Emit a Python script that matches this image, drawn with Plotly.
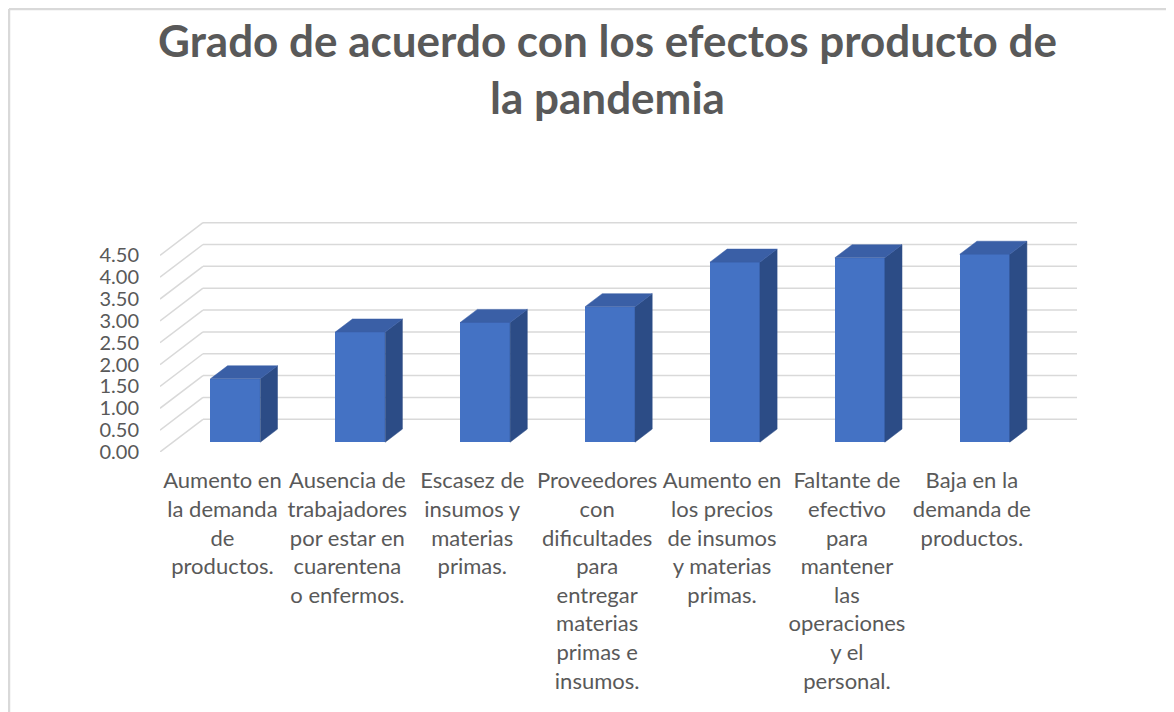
import plotly.graph_objects as go

# ---- data ----
categories = [
    "Aumento en<br>la demanda<br>de<br>productos.",
    "Ausencia de<br>trabajadores<br>por estar en<br>cuarentena<br>o enfermos.",
    "Escasez de<br>insumos y<br>materias<br>primas.",
    "Proveedores<br>con<br>dificultades<br>para<br>entregar<br>materias<br>primas e<br>insumos.",
    "Aumento en<br>los precios<br>de insumos<br>y materias<br>primas.",
    "Faltante de<br>efectivo<br>para<br>mantener<br>las<br>operaciones<br>y el<br>personal.",
    "Baja en la<br>demanda de<br>productos.",
]
values = [1.45, 2.52, 2.74, 3.10, 4.12, 4.22, 4.30]
y_ticks = [0, 0.5, 1, 1.5, 2, 2.5, 3, 3.5, 4, 4.5]
y_tick_text = ["%.2f" % v for v in y_ticks]
title_text = "Grado de acuerdo con los efectos producto de<br>la pandemia"

# ---- oblique 3D projection parameters (style) ----
DX = 0.344   # full depth offset in category units
DY = 0.748   # full depth offset in value units
BAR_W = 0.4  # bar width (gap width 150%)
D0, D1 = 0.3, 0.7  # bar depth span (gap depth 150%)

FRONT = "#4472C4"
TOP = "#3A5FA6"
SIDE = "#2C4C86"
GRID = "#D9D9D9"
TXT = "#595959"
FONT = "Lato"

n = len(categories)
xs = list(range(n))

fig = go.Figure()

# front faces
fig.add_trace(go.Bar(
    x=[i + D0 * DX for i in xs], y=values, base=D0 * DY, width=BAR_W,
    marker=dict(color=FRONT, line=dict(width=0)), hoverinfo="skip", showlegend=False,
))

# side and top faces
ddx = (D1 - D0) * DX
ddy = (D1 - D0) * DY
side_x, side_y, top_x, top_y = [], [], [], []
for i, v in zip(xs, values):
    xl = i + D0 * DX - BAR_W / 2
    xr = i + D0 * DX + BAR_W / 2
    b = D0 * DY
    t = b + v
    side_x += [xr, xr + ddx, xr + ddx, xr, xr, None]
    side_y += [b, b + ddy, t + ddy, t, b, None]
    top_x += [xl, xr, xr + ddx, xl + ddx, xl, None]
    top_y += [t, t, t + ddy, t + ddy, t, None]
fig.add_trace(go.Scatter(x=side_x, y=side_y, fill="toself", fillcolor=SIDE, mode="lines",
                         line=dict(width=0.5, color=SIDE), hoverinfo="skip", showlegend=False))
fig.add_trace(go.Scatter(x=top_x, y=top_y, fill="toself", fillcolor=TOP, mode="lines",
                         line=dict(width=0.5, color=TOP), hoverinfo="skip", showlegend=False))

# gridlines: diagonal on the side wall + horizontal on the back wall
xmin = -0.5
xmax = n - 0.5
for v in y_ticks:
    fig.add_shape(type="line", x0=xmin, y0=v, x1=xmin + DX, y1=v + DY,
                  xref="x", yref="y", layer="below", line=dict(color=GRID, width=1.5))
    fig.add_shape(type="line", x0=xmin + DX, y0=v + DY, x1=xmax + DX, y1=v + DY,
                  xref="x", yref="y", layer="below", line=dict(color=GRID, width=1.5))

W, H = 1174, 712
L, R, T, B = 152, 105, 214, 268
plot_w = W - L - R
plot_h = H - T - B
x_unit = 124.9
y_unit = 43.7

# chart border (left and top edges of the chart frame)
bx = (1 - L) / plot_w
by_top = (H - B - 1) / plot_h
by_bot = (H - B - 720) / plot_h
bx_right = (1200 - L) / plot_w
fig.add_shape(type="line", xref="paper", yref="paper", x0=bx, x1=bx, y0=by_bot, y1=by_top,
              line=dict(color="#D9D9D9", width=2.5))
fig.add_shape(type="line", xref="paper", yref="paper", x0=bx, x1=bx_right, y0=by_top, y1=by_top,
              line=dict(color="#D9D9D9", width=2.5))

fig.update_layout(
    width=W, height=H,
    margin=dict(l=L, r=R, t=T, b=B, pad=0, autoexpand=False),
    paper_bgcolor="white", plot_bgcolor="white",
    font=dict(family=FONT, color=TXT, size=21),
    title=dict(text="<b>" + title_text + "</b>", x=599.5 / W, xanchor="center",
               y=1 - 49 / H, yanchor="middle", yref="container", xref="container",
               font=dict(family=FONT, size=44, color=TXT)),
    xaxis=dict(range=[xmin, xmin + plot_w / x_unit], tickvals=xs, ticktext=categories,
               showgrid=False, zeroline=False, showline=False, automargin=False,
               ticks="outside", ticklen=9, tickcolor="rgba(0,0,0,0)",
               tickfont=dict(family=FONT, size=22, color=TXT), fixedrange=True),
    yaxis=dict(range=[0, plot_h / y_unit], tickvals=y_ticks, ticktext=y_tick_text,
               showgrid=False, zeroline=False, showline=False, automargin=False,
               ticks="outside", ticklen=16, tickcolor="rgba(0,0,0,0)",
               tickfont=dict(family=FONT, size=20, color=TXT), fixedrange=True),
    bargap=0,
)

fig.write_html("out.html")
